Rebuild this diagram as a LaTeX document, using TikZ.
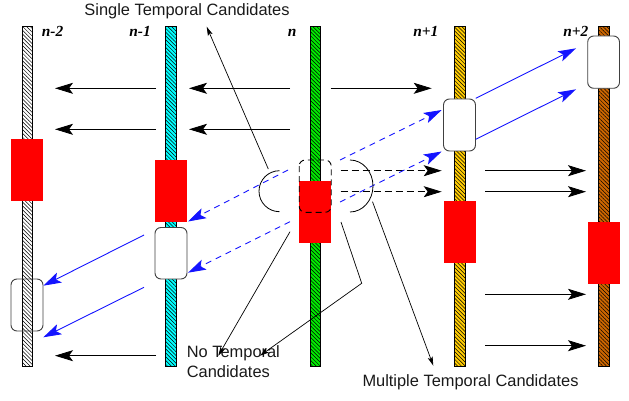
\documentclass[tikz,border=0pt]{standalone}
\usepackage{fontspec}
\setmainfont{Liberation Sans}
\newfontfamily\framefont{Liberation Serif}
\usetikzlibrary{arrows.meta,patterns.meta}
\definecolor{barcyan}{RGB}{0,255,255}
\definecolor{bargreen}{RGB}{0,235,0}
\definecolor{bargold}{RGB}{255,204,0}
\definecolor{barbrown}{RGB}{204,102,0}
\definecolor{candred}{RGB}{255,0,0}
\definecolor{mvblue}{RGB}{20,20,255}
\begin{document}
\begin{tikzpicture}[x=1pt,y=-1pt,
  framebar/.style={draw=black,line width=0.8pt},
  hatch/.style={pattern={Lines[angle=-45,distance=2.7pt,line width=0.5pt]},pattern color=black},
  redblock/.style={fill=candred,draw=none},
  candbox/.style={draw=black!75,line width=0.9pt,rounded corners=6pt},
  bigtip/.style={-{Stealth[length=18pt,width=11pt,inset=4pt]}},
  predarrow/.style={bigtip,line width=0.9pt,black},
  predarrowdash/.style={bigtip,line width=0.9pt,black,dash pattern=on 7pt off 4pt},
  mvarrow/.style={bigtip,line width=0.9pt,mvblue},
  mvarrowdash/.style={bigtip,line width=0.9pt,mvblue,dash pattern=on 6pt off 5pt},
  pointer/.style={-{Stealth[length=9pt,width=5pt,inset=2pt]},line width=0.7pt,black},
  arcline/.style={line width=0.8pt,black},
  caption/.style={font=\fontsize{16.4}{19.5}\selectfont,inner sep=0pt,text=black!90},
  framelabel/.style={font=\fontsize{15.4}{18}\selectfont\framefont\bfseries\itshape,inner sep=0pt}
]
\useasboundingbox (0,0) rectangle (629,401);

% frame bars: fill, hatching, outline
\foreach \cx/\col [count=\i] in {27.3/white,171/barcyan,315.3/bargreen,459.7/bargold,603.8/barbrown}{
  \fill[\col] (\cx-5.3,26.7) rectangle (\cx+5.3,366);
  \fill[hatch] (\cx-5.3,26.7) rectangle (\cx+5.3,366);
  \draw[framebar] (\cx-5.3,26.7) rectangle (\cx+5.3,366);
}

% frame labels
\node[framelabel,anchor=base west] (lm2) at (41.7,36.7) {n-2};
\node[framelabel,anchor=base east] (lm1) at (151,36.7) {n-1};
\node[framelabel,anchor=base east] (l0)  at (296.7,36.7) {n};
\node[framelabel,anchor=base east] (lp1) at (438.5,36.7) {n+1};
\node[framelabel,anchor=base east] (lp2) at (588.5,36.7) {n+2};

% current blocks (red)
\fill[redblock] (11,139) rectangle (43,201);
\fill[redblock] (155,160) rectangle (187,222);
\fill[redblock] (299.2,181) rectangle (331.2,243);
\fill[redblock] (443.5,201) rectangle (475.5,263);
\fill[redblock] (587.7,222) rectangle (619.8,284);

% candidate boxes
\draw[candbox] (11,279) rectangle (43,331);
\draw[candbox,fill=white] (155,227.5) rectangle (187,279);
\draw[candbox,fill=white] (443.5,99) rectangle (475.5,151);
\draw[candbox,fill=white] (587.7,36) rectangle (619.5,88.3);
\draw[line width=0.9pt,black,rounded corners=6pt,dash pattern=on 6pt off 4pt]
  (299.2,160) rectangle (331.2,212.3);

% temporal prediction arrows (black)
\draw[predarrow] (156,88.3) -- (55,88.3);
\draw[predarrow] (156,129.3) -- (55,129.3);
\draw[predarrow] (290,88.3) -- (189,88.3);
\draw[predarrow] (290,129.3) -- (189,129.3);
\draw[predarrow] (156,355.7) -- (55,355.7);
\draw[predarrow] (330.7,88.3) -- (431.7,88.3);
\draw[predarrowdash] (340.7,170.7) -- (441.7,170.7);
\draw[predarrowdash] (340.7,191.7) -- (441.7,191.7);
\draw[predarrow] (485,170.7) -- (586,170.7);
\draw[predarrow] (485,191.7) -- (586,191.7);
\draw[predarrow] (485,294.3) -- (586,294.3);
\draw[predarrow] (485,345.7) -- (586,345.7);

% motion vector arrows (blue)
\draw[mvarrowdash] (288,170) -- (188,221.5);
\draw[mvarrowdash] (290,221.7) -- (188,272.7);
\draw[mvarrowdash] (340,160) -- (441.7,110);
\draw[mvarrowdash] (340,202) -- (441.7,151.5);
\draw[mvarrow] (475.7,98.3) -- (576,48.3);
\draw[mvarrow] (475.7,139.3) -- (576,89.3);
\draw[mvarrow] (144,235) -- (43.3,285.7);
\draw[mvarrow] (144,287.3) -- (43.3,337.3);

% half circles around the current block (drawn from their top ends)
\coordinate (ltop) at (279.5,170.7);
\coordinate (rtop) at (350,160);
\draw[arcline] (ltop) arc[start angle=270,end angle=90,radius=20.5];
\draw[arcline] (rtop) arc[start angle=-90,end angle=90,x radius=23,y radius=26];

% captions
\node[caption,anchor=base] (single) at (187,16) {Single Temporal Candidates};
\node[caption,anchor=base west,align=left] (none) at (186.7,377)
  {No Temporal\\Candidates};
\node[caption,anchor=base west] (multi) at (362.3,386.5) {Multiple Temporal Candidates};

% pointers to the captions
\coordinate (ps) at (268.3,169);
\coordinate (ts) at (206.7,26.7);
\draw[pointer] (ps) -- (ts);
\coordinate (pn1) at (290,231.7);
\coordinate (tn1) at (218.3,355.7);
\draw[pointer] (pn1) -- (tn1);
\coordinate (pn2) at (341,222);
\coordinate (kn2) at (361.7,283.3);
\coordinate (tn2) at (260,355.7);
\draw[pointer] (pn2) -- (kn2) -- (tn2);
\coordinate (pm) at (372.5,201.7);
\coordinate (tm) at (433.3,365.7);
\draw[pointer] (pm) -- (tm);
\end{tikzpicture}
\end{document}
